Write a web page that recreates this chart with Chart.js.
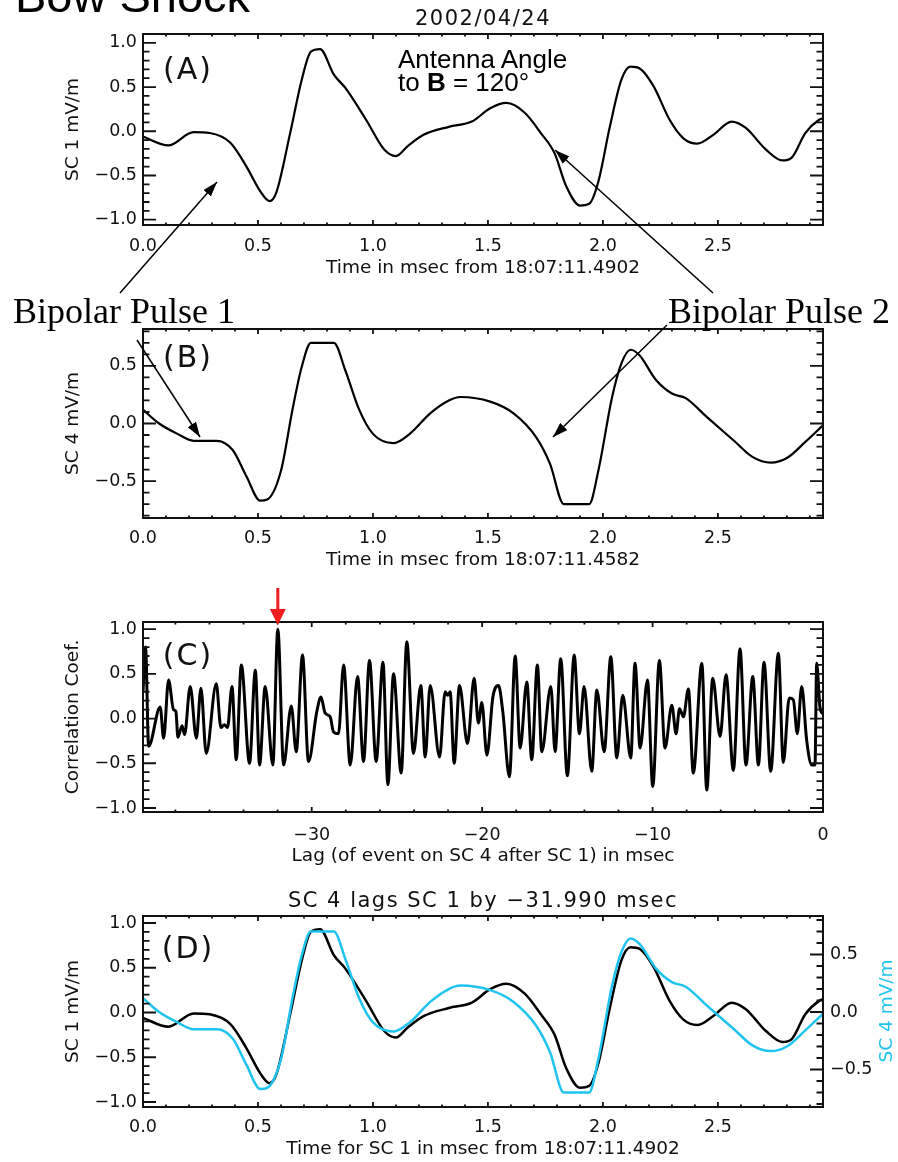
<!DOCTYPE html>
<html>
<head>
<meta charset="utf-8">
<script src="https://cdn.jsdelivr.net/npm/chart.js@4/dist/chart.umd.min.js"></script>
<style>
  body { margin: 0; background: #fff; }
  #page { position: relative; width: 898px; height: 1162px; overflow: hidden; }
  #page canvas { position: absolute; left: 0; }
  #notes { position: absolute; left: 0; top: 0; pointer-events: none; }
  .ann { font-family: "Liberation Sans", Arial, sans-serif; font-size: 26px; }
  .idl { font-family: "DejaVu Sans", sans-serif; fill: #111; }
  .pulse { font-family: "Liberation Serif", "Times New Roman", serif; font-size: 36px; }
</style>
</head>
<body>
<div id="page">
  <canvas id="cA" width="898" height="280" style="top:0"></canvas>
  <canvas id="cB" width="898" height="300" style="top:280px"></canvas>
  <canvas id="cC" width="898" height="290" style="top:580px"></canvas>
  <canvas id="cD" width="898" height="292" style="top:870px"></canvas>
  <svg id="notes" width="898" height="1162" viewBox="0 0 898 1162">
    <defs>
      <marker id="head" viewBox="0 0 15 10" refX="15" refY="5" markerWidth="15" markerHeight="10" markerUnits="userSpaceOnUse" orient="auto">
        <path d="M0,0 L15,5 L0,10 z" fill="#000"/>
      </marker>
    </defs>
    <text class="ann" x="15" y="12" style="font-size:47px">Bow Shock</text>
    <text class="idl" x="483" y="25" text-anchor="middle" font-size="21" letter-spacing="1.5">2002/04/24</text>
    <text class="ann" x="398" y="68">Antenna Angle</text>
    <text class="ann" x="398" y="91">to <tspan font-weight="bold">B</tspan> = 120°</text>

    <text class="pulse" x="13" y="323">Bipolar Pulse 1</text>
    <text class="pulse" x="668" y="323">Bipolar Pulse 2</text>

    <text class="idl" x="188" y="79" text-anchor="middle" font-size="30" letter-spacing="2">(A)</text>
    <text class="idl" x="188" y="367" text-anchor="middle" font-size="30" letter-spacing="2">(B)</text>
    <text class="idl" x="188" y="665" text-anchor="middle" font-size="30" letter-spacing="2">(C)</text>
    <text class="idl" x="188" y="958" text-anchor="middle" font-size="30" letter-spacing="2">(D)</text>

    <text id="titleD" class="idl" x="483" y="907" text-anchor="middle" font-size="21" letter-spacing="1.5"></text>
    <text transform="translate(885,1011) rotate(-90)" text-anchor="middle" dominant-baseline="central"
          font-family="DejaVu Sans, sans-serif" font-size="18.5" fill="#1fc3ef">SC 4 mV/m</text>

    <g stroke="#000" stroke-width="1.5" marker-end="url(#head)">
      <line x1="120" y1="293" x2="217" y2="182"/>
      <line x1="137" y1="340" x2="200" y2="437"/>
      <line x1="713" y1="293" x2="555" y2="150"/>
      <line x1="667" y1="325" x2="553" y2="437"/>
    </g>
  </svg>
</div>
<script>
// --- data ---
// (A) SC 1 electric field, msec from 18:07:11.4902
const timeSC1 = [0, 0.11, 0.22, 0.29, 0.38, 0.45, 0.51, 0.55, 0.58, 0.64, 0.69, 0.73, 0.77, 0.83, 0.88, 0.97,
  1.05, 1.10, 1.15, 1.22, 1.33, 1.43, 1.51, 1.58, 1.66, 1.73, 1.79, 1.84, 1.90, 1.94, 1.98, 2.03, 2.08, 2.12,
  2.16, 2.22, 2.29, 2.35, 2.41, 2.48, 2.56, 2.62, 2.71, 2.78, 2.82, 2.88, 2.94, 2.96];
const fieldSC1 = [-0.06, -0.16, -0.01, -0.02, -0.13, -0.40, -0.68, -0.79, -0.69, -0.02, 0.58, 0.90, 0.93, 0.64, 0.49, 0.13,
  -0.21, -0.28, -0.17, -0.04, 0.05, 0.11, 0.26, 0.32, 0.21, -0.02, -0.25, -0.62, -0.84, -0.82, -0.57, 0.05, 0.58, 0.73,
  0.71, 0.51, 0.13, -0.08, -0.14, -0.04, 0.11, 0.04, -0.21, -0.33, -0.30, -0.02, 0.13, 0.15];

// (B) SC 4 electric field, msec from 18:07:11.4582
const timeSC4 = [0, 0.07, 0.15, 0.22, 0.32, 0.39, 0.45, 0.51, 0.54, 0.60, 0.65, 0.69, 0.73, 0.83, 0.88, 0.94,
  1.00, 1.09, 1.16, 1.25, 1.33, 1.38, 1.51, 1.61, 1.71, 1.77, 1.83, 1.94, 1.98, 2.04, 2.08, 2.12, 2.16, 2.23,
  2.30, 2.36, 2.45, 2.57, 2.65, 2.73, 2.80, 2.88, 2.96];
const fieldSC4 = [0.12, 0.00, -0.09, -0.15, -0.15, -0.23, -0.46, -0.67, -0.66, -0.41, 0.12, 0.49, 0.70, 0.70, 0.46, 0.12,
  -0.09, -0.17, -0.09, 0.09, 0.20, 0.23, 0.19, 0.09, -0.12, -0.35, -0.70, -0.70, -0.41, 0.23, 0.52, 0.64, 0.59, 0.38,
  0.26, 0.22, 0.06, -0.15, -0.29, -0.34, -0.30, -0.16, -0.01];

// (C) correlation coefficient vs lag (msec)
const lagC = [-39.9, -39.75, -39.57, -38.89, -38.69, -38.40, -38.11, -37.97, -37.85, -37.61,
  -37.46, -37.13, -36.77, -36.50, -36.19, -35.60, -35.33, -35.13, -34.94, -34.68,
  -34.43, -34.13, -33.65, -33.31, -33.06, -32.73, -32.28, -31.99, -31.65, -31.20,
  -30.91, -30.54, -30.19, -29.70, -29.46, -29.21, -28.92, -28.72, -28.43, -28.13,
  -27.74, -27.31, -26.96, -26.61, -26.22, -25.82, -25.53, -25.20, -24.75, -24.42,
  -24.03, -23.60, -23.34, -23.05, -22.50, -22.17, -22.02, -21.88, -21.64, -21.33,
  -20.86, -20.47, -20.22, -20.02, -19.72, -19.37, -19.04, -18.79, -18.40, -18.06,
  -17.77, -17.38, -17.09, -16.76, -16.50, -15.97, -15.72, -15.39, -15.00, -14.60,
  -14.29, -14.02, -13.57, -13.27, -12.84, -12.45, -12.10, -11.75, -11.28, -11.03,
  -10.73, -10.30, -9.99, -9.60, -9.27, -8.87, -8.62, -8.42, -8.19, -7.90,
  -7.61, -7.11, -6.82, -6.47, -6.04, -5.69, -5.26, -4.87, -4.52, -4.12,
  -3.79, -3.46, -3.07, -2.62, -2.33, -1.98, -1.74, -1.51, -1.25, -0.96,
  -0.66, -0.47, -0.37, -0.18, 0];
const corrC = [0.30, 0.80, -0.31, 0.13, -0.22, 0.43, 0.10, 0.08, -0.21, -0.08,
  -0.18, 0.36, -0.22, 0.34, -0.39, 0.39, -0.10, -0.07, -0.10, 0.36,
  -0.46, 0.60, -0.50, 0.54, -0.52, 0.36, -0.52, 1.00, -0.52, 0.14,
  -0.37, 0.71, -0.48, 0.08, 0.24, 0.06, 0.02, -0.15, -0.17, 0.60,
  -0.52, 0.47, -0.48, 0.65, -0.48, 0.63, -0.74, 0.50, -0.61, 0.86,
  -0.39, 0.37, -0.43, 0.37, -0.43, 0.30, 0.26, 0.30, -0.50, 0.37,
  -0.28, 0.45, -0.05, 0.18, -0.41, 0.24, 0.37, 0.08, -0.65, 0.70,
  -0.33, 0.41, -0.46, 0.60, -0.37, 0.36, -0.37, 0.67, -0.64, 0.71,
  -0.17, 0.36, -0.59, 0.32, -0.37, 0.69, -0.44, 0.26, -0.44, 0.62,
  -0.33, 0.43, -0.76, 0.65, -0.33, 0.15, -0.17, 0.11, 0.02, 0.33,
  -0.61, 0.62, -0.80, 0.45, -0.20, 0.49, -0.58, 0.78, -0.52, 0.47,
  -0.52, 0.63, -0.59, 0.73, -0.49, 0.23, 0.21, -0.17, 0.36, -0.24,
  -0.52, -0.52, 0.62, 0.13, 0.05];
const peakLag = -31.990;

// tick labels
const timeTicks = [0, 0.5, 1.0, 1.5, 2.0, 2.5];
const sc1Ticks = [-1.0, -0.5, 0, 0.5, 1.0];
const sc4Ticks = [-0.5, 0, 0.5];
const corrTicks = [-1.0, -0.5, 0, 0.5, 1.0];
const lagTicks = [-30, -20, -10, 0];

const TMAX = 2.957;
const INK = '#111';
const CYAN = '#1fc3ef';
const tickFont = { family: 'DejaVu Sans', size: 17.5 };
const titleFont = { family: 'DejaVu Sans', size: 18.5 };
const fmt1 = v => (v < 0 ? '\u2212' : '') + Math.abs(v).toFixed(1);
const fmt0 = v => (v < 0 ? '\u2212' : '') + Math.abs(Math.round(v));

document.getElementById('titleD').textContent =
  'SC 4 lags SC 1 by ' + (peakLag < 0 ? '\u2212' : '') + Math.abs(peakLag).toFixed(3) + ' msec';

function pts(xs, ys) { return xs.map((x, i) => ({ x, y: ys[i] })); }

function line(data, color, width, axis) {
  return { data, borderColor: color, borderWidth: width, pointRadius: 0, fill: false,
    cubicInterpolationMode: 'monotone', yAxisID: axis || 'y' };
}

// IDL style frame: box on all sides, inward major + minor ticks
const idlFrame = {
  id: 'idlFrame',
  afterDatasetsDraw(chart, args, o) {
    const { ctx, chartArea: a, scales } = chart;
    const marks = (scale, step) => {
      const major = scale.ticks.map(t => t.value);
      const out = [];
      for (let k = Math.ceil(scale.min / step - 1e-6); k * step <= scale.max + 1e-6; k++) {
        const v = k * step;
        out.push({ p: scale.getPixelForValue(v), major: major.some(m => Math.abs(m - v) < step / 10) });
      }
      return out;
    };
    ctx.save();
    ctx.strokeStyle = INK;
    ctx.lineWidth = 2;
    ctx.strokeRect(a.left, a.top, a.width, a.height);
    ctx.lineWidth = 1.8;
    ctx.beginPath();
    marks(scales.x, o.xStep).forEach(m => {
      const len = m.major ? 5 : 2.5;
      ctx.moveTo(m.p, a.bottom); ctx.lineTo(m.p, a.bottom - len);
      ctx.moveTo(m.p, a.top); ctx.lineTo(m.p, a.top + len);
    });
    const left = marks(scales.y, o.yStep);
    const right = scales.y1 ? marks(scales.y1, o.yStep) : left;
    left.forEach(m => {
      const len = m.major ? 13 : 6.5;
      ctx.moveTo(a.left, m.p); ctx.lineTo(a.left + len, m.p);
    });
    right.forEach(m => {
      const len = m.major ? 13 : 6.5;
      ctx.moveTo(a.right, m.p); ctx.lineTo(a.right - len, m.p);
    });
    ctx.stroke();

    // red marker over the best correlation
    if (o.marker !== undefined) {
      const x = scales.x.getPixelForValue(o.marker);
      ctx.strokeStyle = ctx.fillStyle = '#ee1c1c';
      ctx.lineWidth = 3;
      ctx.beginPath(); ctx.moveTo(x, a.top - 34); ctx.lineTo(x, a.top - 10); ctx.stroke();
      ctx.beginPath(); ctx.moveTo(x - 8, a.top - 13); ctx.lineTo(x + 8, a.top - 13); ctx.lineTo(x, a.top + 3);
      ctx.closePath(); ctx.fill();
    }
    ctx.restore();
  }
};
Chart.register(idlFrame);

function fixTicks(values) {
  return scale => { scale.ticks = values.map(v => ({ value: v })); };
}

function xAxis(min, max, ticks, title, pad, titlePad, height, fmt) {
  return {
    type: 'linear', position: 'bottom', min, max,
    grid: { display: false, drawTicks: false }, border: { display: false },
    afterBuildTicks: fixTicks(ticks),
    afterFit: s => { s.height = height; },
    ticks: { font: tickFont, color: INK, padding: pad, maxRotation: 0, autoSkip: false, callback: fmt },
    title: { display: true, text: title, font: titleFont, color: INK, padding: { top: 0, bottom: titlePad } }
  };
}

function yAxis(position, min, max, ticks, title, width) {
  return {
    type: 'linear', position, min, max,
    grid: { display: false, drawTicks: false }, border: { display: false },
    afterBuildTicks: fixTicks(ticks),
    afterFit: s => { s.width = width; },
    ticks: { font: tickFont, color: INK, padding: position === 'left' ? 6 : 7, autoSkip: false, callback: fmt1 },
    title: { display: !!title, text: title || '', font: titleFont, color: INK, padding: 0 }
  };
}

function panel(id, datasets, padding, scales, frame) {
  return new Chart(document.getElementById(id), {
    type: 'line',
    data: { datasets },
    options: {
      responsive: false,
      animation: false,
      layout: { padding },
      scales,
      plugins: { legend: { display: false }, tooltip: { enabled: false }, idlFrame: frame }
    }
  });
}

// --- Panel A ---
panel('cA', [line(pts(timeSC1, fieldSC1), '#000', 2.2)],
  { left: 62, right: 75, top: 34, bottom: 0 },
  {
    x: xAxis(0, TMAX, timeTicks, 'Time in msec from 18:07:11.4902', 10.5, 1, 55, fmt1),
    y: yAxis('left', -1.06, 1.10, sc1Ticks, 'SC 1 mV/m', 81)
  },
  { xStep: 0.1, yStep: 0.1 });

// --- Panel B ---
panel('cB', [line(pts(timeSC4, fieldSC4), '#000', 2.2)],
  { left: 62, right: 75, top: 49, bottom: 0 },
  {
    x: xAxis(0, TMAX, timeTicks, 'Time in msec from 18:07:11.4582', 9.5, 9, 62, fmt1),
    y: yAxis('left', -0.82, 0.82, sc4Ticks, 'SC 4 mV/m', 81)
  },
  { xStep: 0.1, yStep: 0.1 });

// --- Panel C ---
panel('cC', [line(pts(lagC, corrC), '#000', 3)],
  { left: 62, right: 75, top: 42, bottom: 0 },
  {
    x: xAxis(-39.9, 0, lagTicks, 'Lag (of event on SC 4 after SC 1) in msec', 12.5, 3, 58, fmt0),
    y: yAxis('left', -1.045, 1.08, corrTicks, 'Correlation Coef.', 81)
  },
  { xStep: 2, yStep: 0.1, marker: peakLag });

// --- Panel D ---
panel('cD', [
    line(pts(timeSC4, fieldSC4), CYAN, 2.5, 'y1'),
    line(pts(timeSC1, fieldSC1), '#000', 2.5, 'y')
  ],
  { left: 62, right: 0, top: 46, bottom: 0 },
  {
    x: xAxis(0, TMAX, timeTicks, 'Time for SC 1 in msec from 18:07:11.4902', 9.5, 2, 55, fmt1),
    y: yAxis('left', -1.056, 1.078, sc1Ticks, 'SC 1 mV/m', 81),
    y1: yAxis('right', -0.826, 0.835, sc4Ticks, '', 75)
  },
  { xStep: 0.1, yStep: 0.1 });
</script>
</body>
</html>
